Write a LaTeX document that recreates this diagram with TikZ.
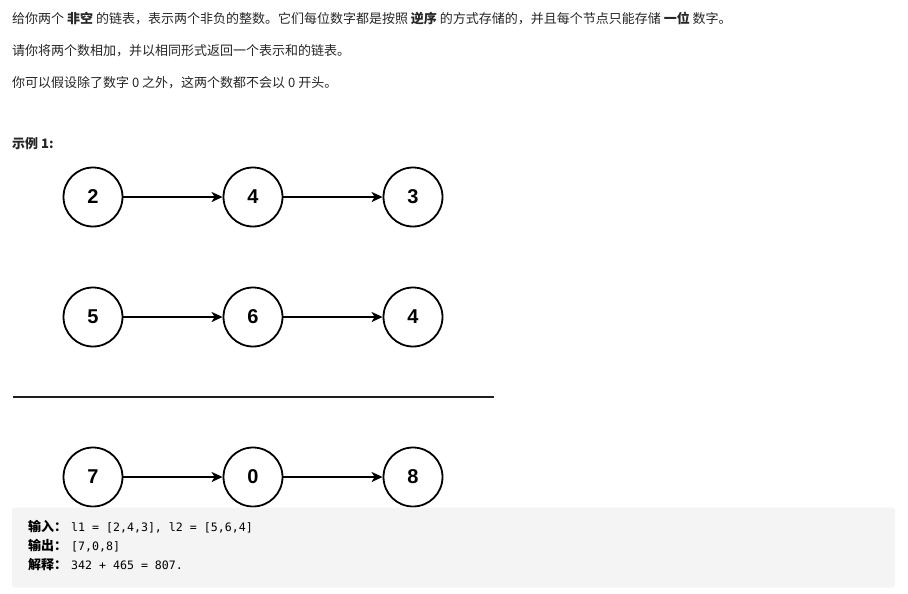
\documentclass[tikz,border=0pt]{standalone}
\usepackage{fontspec}
\usetikzlibrary{arrows.meta}
\newfontfamily\cjk{Noto Sans CJK SC}
\newfontfamily\digitfont{Liberation Sans}
\newfontfamily\codefont{DejaVu Sans Mono}
\definecolor{txt}{RGB}{38,38,38}
\definecolor{boxbg}{RGB}{244,244,244}
\begin{document}
\begin{tikzpicture}[x=1pt,y=-1pt,
  listnode/.style={circle,draw=black,line width=1.8pt,minimum size=59pt,inner sep=0pt,
    font=\digitfont\bfseries\fontsize{20}{20}\selectfont},
  link/.style={line width=1.5pt,-{Stealth[length=11pt,width=10pt,inset=3pt]}},
  para/.style={anchor=base west,inner sep=0pt,text=txt,font=\cjk\fontsize{13}{13}\selectfont},
  codeline/.style={anchor=base west,inner sep=0pt,text=black,font=\cjk\fontsize{13}{13}\selectfont}
]
\useasboundingbox (0,0) rectangle (908,594);
\fill[white] (0,0) rectangle (908,594);

\node[para] (p1) at (12,24) {给你两个 \textbf{非空} 的链表，表示两个非负的整数。它们每位数字都是按照 \textbf{逆序} 的方式存储的，并且每个节点只能存储 \textbf{一位} 数字。};
\node[para] (p2) at (12,56) {请你将两个数相加，并以相同形式返回一个表示和的链表。};
\node[para] (p3) at (12,88) {你可以假设除了数字 0 之外，这两个数都不会以 0 开头。};
\node[para] (ex) at (12,148) {\textbf{示例 1:}};

\node[listnode] (a1) at (93,197) {2};
\node[listnode] (a2) at (253,197) {4};
\node[listnode] (a3) at (413,197) {3};
\draw[link] (a1) -- (a2);
\draw[link] (a2) -- (a3);

\node[listnode] (b1) at (93,317) {5};
\node[listnode] (b2) at (253,317) {6};
\node[listnode] (b3) at (413,317) {4};
\draw[link] (b1) -- (b2);
\draw[link] (b2) -- (b3);

\coordinate (hl) at (13,397);
\coordinate (hr) at (494,397);
\draw[line width=2pt,color=black!88] (hl) -- (hr);

\node[listnode] (c1) at (93,477) {7};
\node[listnode] (c2) at (253,477) {0};
\node[listnode] (c3) at (413,477) {8};
\draw[link] (c1) -- (c2);
\draw[link] (c2) -- (c3);

\fill[boxbg,rounded corners=3pt] (12,507.5) rectangle (895,587.5);
\node[codeline] (o1) at (28,531) {\textbf{输入：}\hspace{4pt}{\codefont\fontsize{11.6}{11.6}\selectfont l1 = [2,4,3], l2 = [5,6,4]}};
\node[codeline] (o2) at (28,550) {\textbf{输出：}\hspace{4pt}{\codefont\fontsize{11.6}{11.6}\selectfont [7,0,8]}};
\node[codeline] (o3) at (28,569) {\textbf{解释：}\hspace{4pt}{\codefont\fontsize{11.6}{11.6}\selectfont 342 + 465 = 807.}};
\end{tikzpicture}
\end{document}
